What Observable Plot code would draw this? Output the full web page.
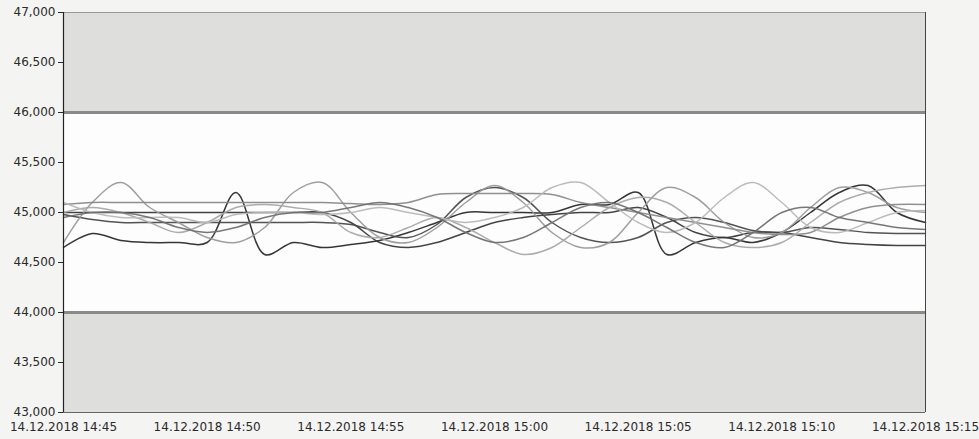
<!DOCTYPE html>
<html>
<head>
<meta charset="utf-8">
<script src="https://cdn.jsdelivr.net/npm/d3@7"></script>
<script src="https://cdn.jsdelivr.net/npm/@observablehq/plot@0.6"></script>
<style>
  html, body { margin: 0; padding: 0; background: #f4f4f3; }
  #chart svg { display: block; }
</style>
</head>
<body>
<div id="chart"></div>
<script>
// minutes after 14.12.2018 14:45 (one value per minute, 0..30)
const minutes = d3.range(0, 31);
const yTicks = [43000, 43500, 44000, 44500, 45000, 45500, 46000, 46500, 47000];
const xTickMinutes = [0, 5, 10, 15, 20, 25, 30];
const bandLow = [43000, 44000];
const bandHigh = [46000, 47000];
const limits = [44000, 46000];

const s1 = [44650,44790,44720,44700,44700,44700,45200,44580,44700,44650,44680,44720,44800,44900,45000,45000,45000,45000,45080,45080,45200,44580,44700,44750,44700,44800,45000,45200,45270,45000,44900];
const s2 = [45000,45000,45000,45000,45000,45000,45000,45000,45000,45000,44900,44700,44650,44700,44800,44900,44950,44980,45000,45000,45050,44950,44800,44750,44800,44800,44750,44700,44680,44670,44670];
const s3 = [44980,44930,44900,44900,44900,44900,44900,44900,44900,44900,44880,44800,44750,44880,45150,45250,45150,44900,44750,44700,44750,44900,44950,44900,44820,44800,44850,44830,44800,44790,44790];
const s4 = [44700,45100,45300,45050,44900,44750,44700,44850,45200,45300,45000,44750,44700,44850,45100,45270,45100,44800,44650,44700,45000,45250,45150,44900,44750,44800,45050,45250,45200,45050,45000];
const s5 = [45080,45100,45100,45100,45100,45100,45100,45100,45100,45100,45090,45080,45100,45180,45190,45190,45190,45180,45100,45050,45000,44950,44900,44850,44800,44780,44800,44950,45050,45080,45080];
const s6 = [45000,45050,45000,44900,44800,44900,45050,45080,45050,45000,44800,44750,44850,44950,44850,44700,44580,44650,44850,45050,45150,45100,44900,44700,44650,44700,44900,45100,45200,45250,45270];
const s7 = [45100,45000,44950,44950,44950,44900,44980,45000,45000,44980,45000,45050,45000,44950,44900,44950,45050,45250,45300,45100,44900,44800,44900,45150,45300,45100,44850,44800,44900,45000,45020];
const s8 = [44950,45000,45000,44950,44850,44800,44850,44950,45000,45000,45050,45100,45050,44950,44800,44700,44750,44900,45050,45100,45000,44850,44700,44650,44800,45000,45050,44950,44900,44850,44830];

const seriesValues = [s1, s2, s3, s4, s5, s6, s7, s8];
const seriesNames = ["S1","S2","S3","S4","S5","S6","S7","S8"];
const seriesColors = ["#2b2b2b","#3a3a3a","#4a4a4a","#9a9a9a","#8a8a8a","#a8a8a8","#b8b8b8","#707070"];

const t0 = Date.UTC(2018, 11, 14, 14, 45);
const toDate = m => new Date(t0 + m * 60000);

const rows = [];
seriesValues.forEach((vals, i) => {
  vals.forEach((v, j) => rows.push({series: seriesNames[i], time: toDate(minutes[j]), value: v}));
});

const xDomain = [toDate(0), toDate(30)];
const fmt = d3.utcFormat("%d.%m.%Y %H:%M");
const font = "'DejaVu Sans', Verdana, sans-serif";

const chart = Plot.plot({
  width: 979,
  height: 439,
  marginLeft: 63,
  marginRight: 54,
  marginTop: 12,
  marginBottom: 27,
  style: {background: "transparent", fontFamily: font, fontSize: "12px", color: "#2a2a2a"},
  x: {type: "utc", domain: xDomain, ticks: xTickMinutes.map(toDate), tickFormat: fmt, label: null, tickSize: 0, tickPadding: 10},
  y: {domain: [43000, 47000], ticks: yTicks, tickFormat: d3.format(","), label: null, tickSize: 5, tickPadding: 3},
  color: {domain: seriesNames, range: seriesColors},
  marks: [
    Plot.rect([0], {x1: xDomain[0], x2: xDomain[1], y1: 44000, y2: 46000, fill: "#fdfdfd"}),
    Plot.rect([bandLow, bandHigh], {x1: xDomain[0], x2: xDomain[1], y1: d => d[0], y2: d => d[1], fill: "#dededd"}),
    Plot.ruleY(limits, {x1: xDomain[0], x2: xDomain[1], stroke: "#8a8a8a", strokeWidth: 3}),
    Plot.line(rows, {x: "time", y: "value", z: "series", stroke: "series", strokeWidth: 1.5, curve: "catmull-rom", strokeOpacity: 0.95}),
    Plot.ruleY([47000], {x1: xDomain[0], x2: xDomain[1], stroke: "#999", strokeWidth: 1}),
    Plot.ruleY([43000], {x1: xDomain[0], x2: xDomain[1], stroke: "#666", strokeWidth: 1}),
    Plot.ruleX([xDomain[1]], {y1: 43000, y2: 47000, stroke: "#444", strokeWidth: 1}),
    Plot.ruleX([xDomain[0]], {y1: 43000, y2: 47000, stroke: "#222", strokeWidth: 1.2})
  ]
});
document.getElementById("chart").appendChild(chart);
</script>
</body>
</html>
